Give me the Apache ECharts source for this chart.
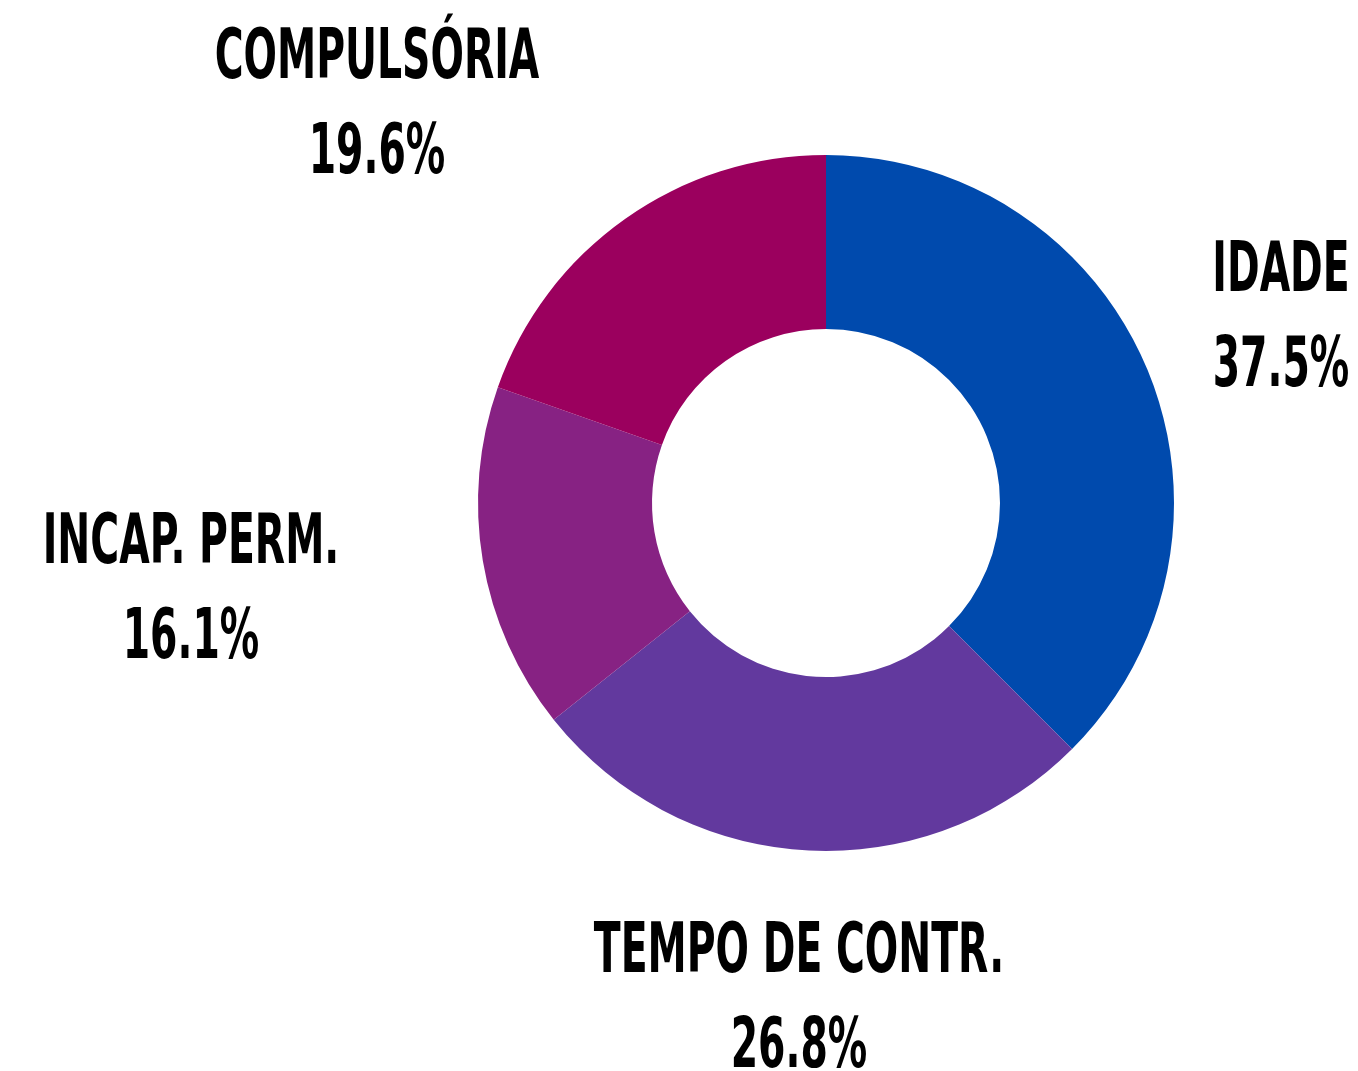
<!DOCTYPE html>
<html>
<head>
<meta charset="utf-8">
<script src="https://cdn.jsdelivr.net/npm/echarts@6/dist/echarts.min.js"></script>
<style>
html,body{margin:0;padding:0;background:#fff;}
#chart{width:1358px;height:1071px;}
</style>
</head>
<body>
<div id="chart"></div>
<script>
var categories = ['IDADE', 'TEMPO DE CONTR.', 'INCAP. PERM.', 'COMPULSÓRIA'];
var values = [37.5, 26.8, 16.1, 19.6];
var colors = ['#004AAD', '#62399E', '#872283', '#9B005E'];
// centro de cada rótulo (x, y)
var labelPos = [[1281, 320], [799, 1001], [191, 592], [377, 107]];

var chart = echarts.init(document.getElementById('chart'));

var data = categories.map(function (name, i) {
    return {name: name, value: values[i], itemStyle: {color: colors[i]}};
});

// rótulos condensados (fonte estreita não disponível -> escala horizontal)
var labels = categories.map(function (name, i) {
    return {
        type: 'text',
        x: labelPos[i][0],
        y: labelPos[i][1],
        scaleX: 0.625,
        silent: true,
        style: {
            text: name + '\n' + values[i].toFixed(1) + '%',
            font: "bold 70px 'DejaVu Sans Condensed', sans-serif",
            fill: '#000',
            align: 'center',
            verticalAlign: 'middle',
            lineHeight: 95
        }
    };
});

chart.setOption({
    animation: false,
    graphic: labels,
    series: [{
        type: 'pie',
        center: [826, 503],
        radius: [174, 348],
        startAngle: 90,
        clockwise: true,
        data: data,
        itemStyle: {borderWidth: 0},
        emphasis: {disabled: true},
        labelLine: {show: false},
        label: {show: false}
    }]
});

window.addEventListener('resize', function () {
    chart.resize();
});
</script>
</body>
</html>
